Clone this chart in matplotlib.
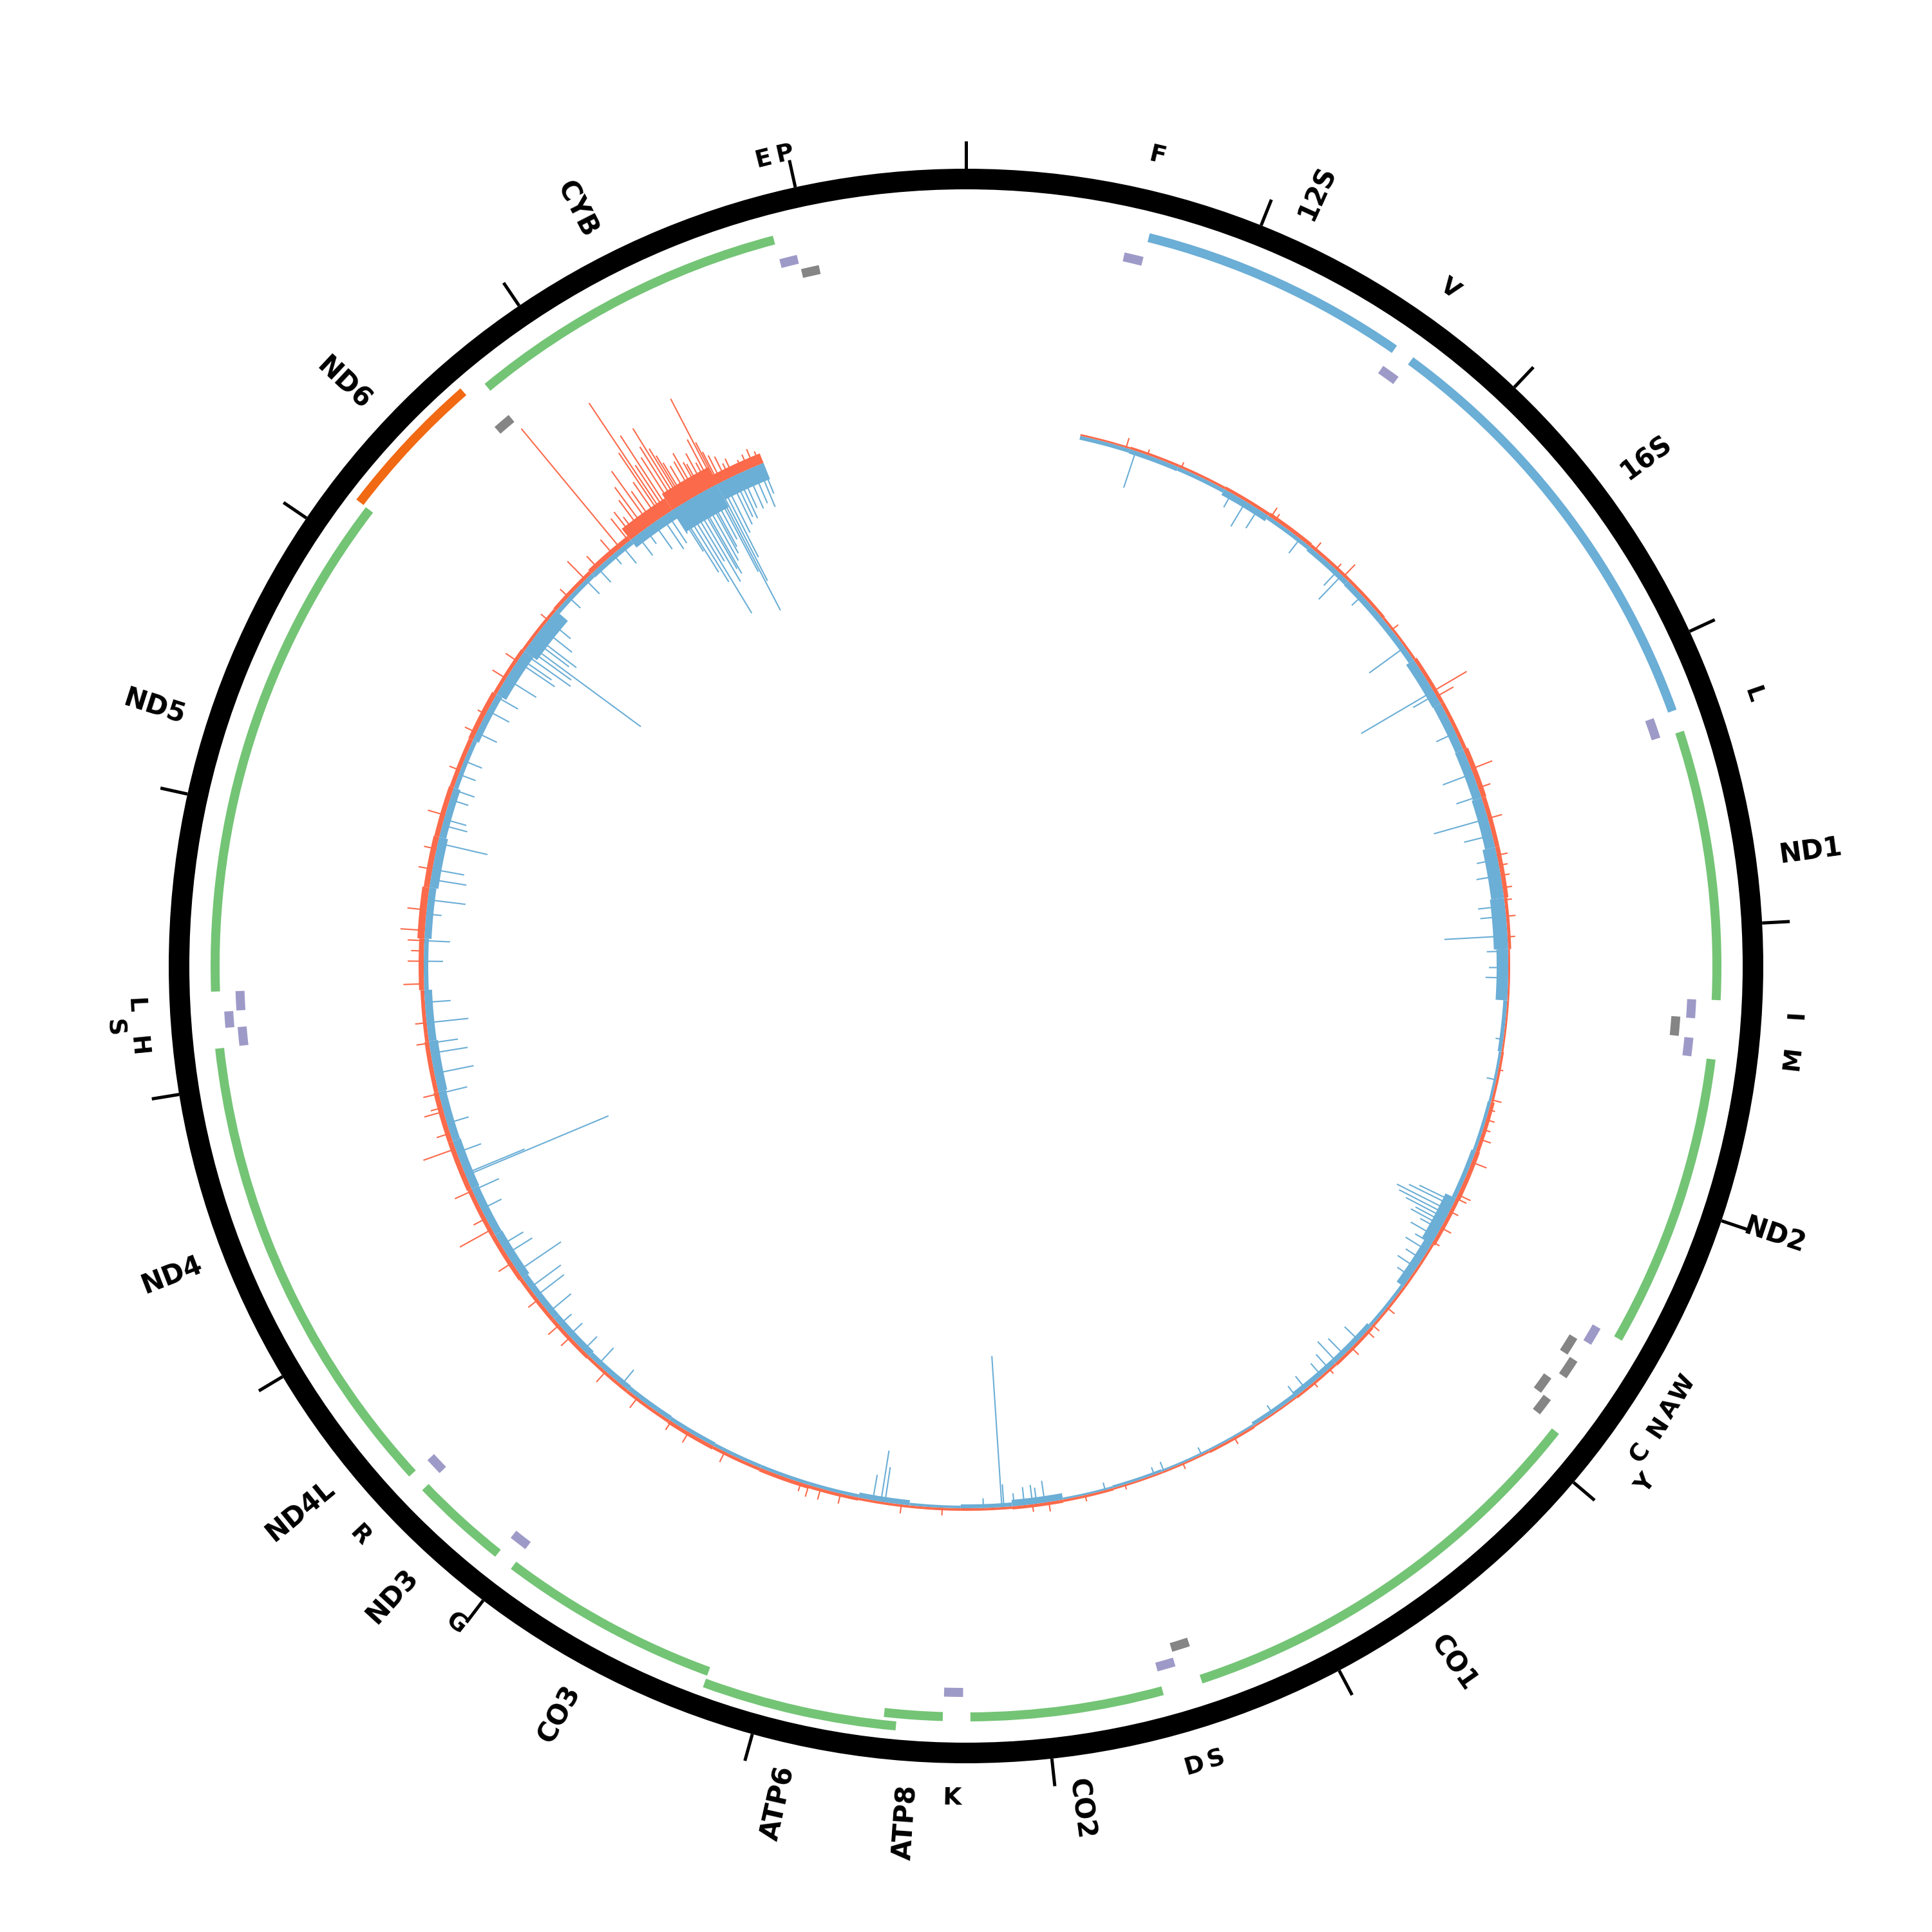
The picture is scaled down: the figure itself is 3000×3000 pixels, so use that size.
import numpy as np
import matplotlib
matplotlib.use("Agg")
import matplotlib.pyplot as plt

GENOME_LEN = 16569

# main genes (rRNA + protein coding)
GENE_NAMES = ["12S", "16S", "ND1", "ND2", "CO1", "CO2", "ATP8", "ATP6", "CO3",
              "ND3", "ND4L", "ND4", "ND5", "ND6", "CYB"]
GENE_START = [648, 1671, 3307, 4470, 5904, 7586, 8366, 8527, 9207,
              10059, 10470, 10760, 12337, 14149, 14747]
GENE_END = [1601, 3229, 4262, 5511, 7445, 8269, 8572, 9207, 9990,
            10404, 10766, 12137, 14148, 14673, 15887]
GENE_KIND = ["rRNA", "rRNA", "H", "H", "H", "H", "H", "H", "H",
             "H", "H", "H", "H", "L", "H"]

# tRNAs
TRNA_LABEL = ["F", "V", "L", "I", "", "M", "W", "A", "N", "C", "Y", "S", "D",
              "K", "G", "R", "H", "S", "L", "", "E", "P"]
TRNA_START = [577, 1602, 3230, 4263, 4329, 4402, 5512, 5587, 5657, 5761, 5826,
              7446, 7518, 8295, 9991, 10405, 12138, 12207, 12266, 14674, 15888, 15956]
TRNA_END = [647, 1670, 3304, 4331, 4400, 4469, 5579, 5655, 5729, 5826, 5891,
            7514, 7585, 8364, 10058, 10469, 12206, 12265, 12336, 14742, 15953, 16023]
TRNA_STRAND = ["H", "H", "H", "H", "L", "H", "H", "L", "L", "L", "L",
               "L", "H", "H", "H", "H", "H", "H", "H", "L", "H", "L"]

# inner signal track, 250 bp bins from 560 bp
BIN_START = 560
BIN_SIZE = 250
RED_ENV = [3, 4, 4, 5, 6, 5, 5, 4, 6, 6, 8, 7, 7, 5, 3, 3, 4, 6, 7, 6,
           4, 4, 5, 4, 3, 4, 3, 3, 4, 5, 4, 4, 4, 5, 6, 5, 6, 5, 5, 6,
           6, 7, 7, 8, 8, 7, 6, 8, 11, 9, 8, 7, 8, 6, 5, 6, 8, 22, 30, 16]
BLUE_ENV = [6, 7, 6, 10, 6, 8, 9, 9, 14, 13, 14, 16, 20, 22, 18, 6, 4, 5, 7, 18,
            13, 5, 8, 8, 6, 3, 3, 4, 3, 10, 6, 4, 8, 5, 5, 5, 6, 7, 8, 10,
            10, 13, 12, 13, 12, 14, 12, 7, 11, 14, 11, 7, 10, 17, 24, 7, 8, 15, 40, 27]

RED_SPIKE_POS = [790, 900, 1076, 1573, 1600, 1840, 1980, 2030, 2380, 2740, 2771, 3162,
                 3260, 3416, 3600, 3650, 3700, 3760, 3820, 3900, 4000, 4650, 4800, 4850,
                 4900, 4950, 5000, 5118, 5290, 5310, 5380, 5470, 5550, 5940, 6050, 6090,
                 6200, 6350, 6450, 6920, 7200, 7500, 7700, 7880, 7960, 8400, 8600, 8900,
                 9000, 9060, 9100, 9500, 9700, 9800, 10000, 10200, 10440, 10520, 10680,
                 10900, 11090, 11150, 11300, 11520, 11600, 11710, 11730, 11800, 12050,
                 12150, 12340, 12450, 12500, 12550, 12600, 12700, 12900, 13000, 13170,
                 13400, 13600, 13700, 13900, 14000, 14250, 14400, 14518, 14600, 14700,
                 14746, 14800, 14830, 14850, 14880, 14900, 14930, 14950, 14980, 15000,
                 15013, 15030, 15046, 15070, 15090, 15106, 15120, 15130, 15140, 15160,
                 15185, 15200, 15220, 15230, 15250, 15270, 15285, 15303, 15312, 15320,
                 15336, 15360, 15380, 15400, 15450, 15480, 15510, 15540]
RED_SPIKE_LEN = [16, 9, 10, 18, 12, 16, 12, 26, 13, 60, 30, 35,
                 20, 23, 17, 14, 14, 15, 12, 15, 12, 8, 16, 10,
                 14, 12, 18, 25, 22, 18, 15, 18, 12, 15, 14, 15,
                 16, 10, 10, 12, 10, 8, 10, 15, 12, 12, 14, 16,
                 18, 19, 14, 18, 19, 16, 20, 22, 20, 23, 20,
                 25, 57, 22, 30, 53, 22, 31, 19, 25, 20,
                 18, 32, 25, 20, 26, 38, 30, 22, 20, 28,
                 18, 20, 14, 25, 22, 15, 18, 40, 25, 30,
                 241, 45, 50, 35, 60, 80, 103, 60, 70, 120,
                 210, 90, 141, 95, 110, 140, 100, 85, 70, 60,
                 63, 75, 55, 50, 65, 45, 83, 151, 73, 55,
                 46, 40, 25, 30, 20, 25, 30, 22]

BLUE_SPIKE_POS = [840, 1350, 1430, 1500, 1750, 1990, 2020, 2160, 2485, 2740, 2760, 2969,
                  3185, 3300, 3416, 3500, 3620, 3700, 3850, 3900, 3996, 4070, 4150, 4200,
                  4500, 4700, 5330, 5350, 5378, 5400, 5420, 5440, 5460, 5480, 5520, 5560,
                  5600, 5650, 5700, 5750, 6150, 6250, 6300, 6350, 6400, 6500, 6560, 6700,
                  7100, 7300, 7350, 7600, 7900, 7940, 7960, 8000, 8050, 8100, 8110, 8200,
                  8680, 8700, 8740, 10100, 10250, 10350, 10450, 10520, 10600, 10700, 10750,
                  10850, 10950, 11000, 11200, 11300, 11380, 11390, 11500, 11650, 11800,
                  11900, 12000, 12050, 12150, 12250, 12450, 12550, 12680, 12750, 12850,
                  12900, 13030, 13120, 13150, 13250, 13300, 13380, 13450, 13600, 13720,
                  13800, 13900, 14000, 14020, 14050, 14080, 14100, 14130, 14150, 14200,
                  14250, 14400, 14518, 14600, 14700, 14760, 14850, 14900, 14950, 15000,
                  15030, 15060, 15080, 15090, 15110, 15130, 15150, 15170, 15190, 15200,
                  15220, 15240, 15250, 15270, 15290, 15301, 15314, 15330, 15350, 15380,
                  15400, 15420, 15440, 15470, 15500, 15530, 15550]
BLUE_SPIKE_LEN = [60, 25, 45, 35, 28, 31, 52, 22, 68, 130, 40, 33,
                  50, 40, 87, 45, 33, 38, 42, 40, 98, 33, 30, 35,
                  12, 15, 60, 75, 92, 85, 70, 50, 55, 35, 45, 30,
                  40, 30, 35, 25, 30, 35, 43, 30, 25, 25, 20, 15,
                  12, 15, 12, 12, 34, 25, 30, 28, 20, 35, 235, 15,
                  55, 80, 40, 30, 35, 30, 28, 25, 45, 55, 60,
                  81, 47, 40, 35, 45, 240, 100, 40, 35, 45,
                  62, 58, 45, 65, 40, 30, 40, 24, 59, 56,
                  50, 79, 40, 36, 30, 35, 28, 30, 35, 38,
                  40, 55, 70, 60, 90, 85, 215, 70, 80, 60,
                  45, 25, 31, 30, 20, 34, 40, 29, 50, 60,
                  55, 43, 80, 120, 141, 201, 110, 150, 130, 140,
                  120, 110, 100, 90, 150, 219, 169, 130, 90, 80,
                  70, 75, 60, 65, 60, 70, 50]

# colours
RED = "#fb6a4a"
BLUE = "#6baed6"
GREEN = "#74c476"
ORANGE = "#f16913"
PURPLE = "#9e9ac8"
GRAY = "#858585"
GENE_COLORS = {"rRNA": BLUE, "H": GREEN, "L": ORANGE}

# radii (axis units == pixels)
RING_IN, RING_W = 1206, 32
TICK_R0, TICK_R1 = 1238, 1281
GENE_R = 1166
GENE_OUT_R = 1185
TRNA_R = {"H": 1128, "L": 1105}
STAGGER = 19
TRACK_R = 842
LABEL_R = 1274
TRNA_LABEL_R = 1292

outer_genes = {"ATP6", "ND6"}
stagger_trna = {8, 10, 17}
stagger_label = {10, 17}


def bp2th(bp):
    return 2 * np.pi * np.asarray(bp, dtype=float) / GENOME_LEN


fig = plt.figure(figsize=(10, 10), dpi=300)
ax = fig.add_axes([0, 0, 1, 1], projection="polar")
ax.set_theta_zero_location("N")
ax.set_theta_direction(-1)
ax.set_ylim(0, 1500)
ax.set_axis_off()

# black ring + ticks every 1 kb
ax.bar(0, RING_W, width=2 * np.pi, bottom=RING_IN, color="black", linewidth=0)
ax.vlines(bp2th(np.arange(0, GENOME_LEN, 1000)), TICK_R0, TICK_R1,
          color="black", linewidth=1.2)

# genes
for name, s, e, kind in zip(GENE_NAMES, GENE_START, GENE_END, GENE_KIND):
    r = GENE_OUT_R if name in outer_genes else GENE_R
    ax.bar(bp2th(s), 14, width=bp2th(e - s), bottom=r - 7, align="edge",
           color=GENE_COLORS[kind], linewidth=0)
    mid = (s + e) / 2
    deg = mid / GENOME_LEN * 360
    if deg < 180:
        rot, ha = 90 - deg, "left"
    else:
        rot, ha = 270 - deg, "right"
    ax.text(bp2th(mid), LABEL_R, name, rotation=rot, rotation_mode="anchor",
            ha=ha, va="center", fontsize=10, fontweight="bold")

# tRNAs
for i, (lab, s, e, strand) in enumerate(zip(TRNA_LABEL, TRNA_START, TRNA_END, TRNA_STRAND)):
    r = TRNA_R[strand] + (STAGGER if i in stagger_trna else 0)
    ax.bar(bp2th(s), 14, width=bp2th(e - s), bottom=r - 7, align="edge",
           color=PURPLE if strand == "H" else GRAY, linewidth=0)
    if not lab:
        continue
    mid = (s + e) / 2
    rot = -mid / GENOME_LEN * 360
    while rot <= -90:
        rot += 180
    while rot > 90:
        rot -= 180
    lr = TRNA_LABEL_R + (35 if i in stagger_label else 0)
    ax.text(bp2th(mid), lr, lab, rotation=rot, rotation_mode="anchor",
            ha="center", va="center", fontsize=9, fontweight="bold")

# inner signal track
centers = BIN_START + BIN_SIZE * (np.arange(len(RED_ENV)) + 0.5)
red_env = np.array(RED_ENV, dtype=float)
blue_env = np.array(BLUE_ENV, dtype=float)
ax.bar(bp2th(centers), red_env, width=bp2th(BIN_SIZE), bottom=TRACK_R,
       color=RED, linewidth=0)
ax.vlines(bp2th(RED_SPIKE_POS), TRACK_R, TRACK_R + np.array(RED_SPIKE_LEN),
          color=RED, linewidth=0.5)
ax.bar(bp2th(centers), blue_env, width=bp2th(BIN_SIZE), bottom=TRACK_R - blue_env,
       color=BLUE, linewidth=0)
ax.vlines(bp2th(BLUE_SPIKE_POS), TRACK_R - np.array(BLUE_SPIKE_LEN), TRACK_R,
          color=BLUE, linewidth=0.5)

fig.savefig("out.png", dpi=300, facecolor="white")
